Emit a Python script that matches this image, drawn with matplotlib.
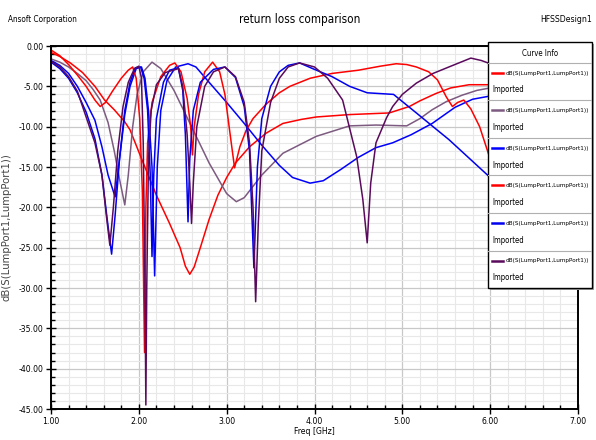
import matplotlib
matplotlib.use("Agg")
import matplotlib.pyplot as plt
from matplotlib import font_manager
from matplotlib.patches import Rectangle
from matplotlib.ticker import MultipleLocator, FormatStrFormatter

# curve 1 (red) - broad dip near 2.6 GHz
f1 = [1.0, 1.1, 1.22, 1.36, 1.5, 1.61, 1.72, 1.84, 1.9, 2.05, 2.2, 2.35, 2.47, 2.53, 2.58, 2.63,
      2.7, 2.8, 2.9, 3.0, 3.1, 3.26, 3.45, 3.64, 3.85, 4.02, 4.4, 4.85, 5.08, 5.2, 5.38, 5.55, 5.76, 6.0]
s1 = [-0.8, -1.3, -2.1, -3.3, -5.0, -6.7, -7.9, -9.4, -10.4, -14.5, -18.5, -22.0, -25.0, -27.3, -28.3, -27.4,
      -25.0, -21.5, -18.5, -16.3, -14.5, -12.5, -10.8, -9.6, -9.1, -8.8, -8.5, -8.3, -7.5, -6.8, -5.9, -5.2, -4.8, -4.8]

# curve 2 (mauve)
f2 = [1.0, 1.1, 1.2, 1.3, 1.4, 1.48, 1.56, 1.65, 1.72, 1.78, 1.84, 1.88, 1.93, 1.98, 2.05, 2.15, 2.25,
      2.4, 2.6, 2.8, 3.0, 3.11, 3.2, 3.4, 3.64, 4.02, 4.4, 4.7, 5.05, 5.2, 5.34, 5.5, 5.68, 5.85, 6.0]
s2 = [-1.6, -2.0, -2.6, -3.4, -4.3, -5.4, -6.7, -9.5, -13.0, -16.5, -19.7, -16.0, -10.0, -6.0, -3.2, -2.0, -2.8,
      -5.5, -10.0, -14.5, -18.3, -19.3, -18.8, -16.0, -13.3, -11.2, -9.9, -9.8, -9.9, -9.0, -7.9, -6.9, -6.1, -5.5, -5.2]

# curve 3 (blue) - wide peak at 2.56 GHz
f3 = [1.0, 1.1, 1.2, 1.3, 1.4, 1.5, 1.58, 1.65, 1.73, 1.78, 1.84, 1.9, 1.97, 2.03, 2.07, 2.11, 2.15, 2.18,
      2.21, 2.25, 2.32, 2.42, 2.56, 2.65, 2.8, 3.0, 3.2, 3.4, 3.6, 3.75, 3.95, 4.1, 4.3, 4.5, 4.7, 4.89,
      5.1, 5.34, 5.6, 5.8, 6.0]
s3 = [-1.8, -2.4, -3.4, -5.0, -7.0, -9.2, -12.5, -16.0, -18.7, -14.0, -8.5, -5.0, -2.8, -2.6, -4.0, -8.0, -15.0, -28.5,
      -15.0, -8.0, -4.3, -2.6, -2.2, -2.6, -4.5, -7.0, -9.6, -12.3, -14.8, -16.3, -17.0, -16.7, -15.3, -13.8, -12.6, -12.0,
      -11.0, -9.6, -7.6, -6.6, -6.2]

# curve 4 (red) - several narrow dips
f4 = [1.0, 1.1, 1.2, 1.3, 1.4, 1.5, 1.56, 1.62, 1.7, 1.8, 1.88, 1.93, 1.97, 2.01, 2.04, 2.065, 2.08, 2.1,
      2.15, 2.25, 2.35, 2.41, 2.48, 2.55, 2.59, 2.61, 2.63, 2.68, 2.75, 2.84, 2.92, 2.98, 3.04, 3.09, 3.15,
      3.22, 3.3, 3.45, 3.6, 3.72, 3.95, 4.2, 4.5, 4.75, 4.93, 5.05, 5.16, 5.3, 5.4, 5.5, 5.57, 5.63, 5.7,
      5.78, 5.88, 6.0]
s4 = [-0.5, -1.2, -2.3, -3.6, -5.0, -6.7, -7.5, -7.0, -5.6, -4.0, -3.0, -2.6, -4.0, -9.0, -18.0, -38.0, -20.0, -12.0,
      -7.0, -3.8, -2.4, -2.1, -3.2, -6.5, -10.0, -13.5, -10.0, -6.0, -3.2, -2.0, -3.2, -6.0, -11.0, -15.1, -12.5,
      -10.5, -9.0, -7.2, -5.8, -5.0, -4.0, -3.4, -3.0, -2.5, -2.2, -2.3, -2.6, -3.2, -4.2, -6.3, -7.5, -7.0, -6.7,
      -7.8, -10.0, -14.0]

# curve 5 (blue)
f5 = [1.0, 1.1, 1.2, 1.3, 1.4, 1.5, 1.58, 1.64, 1.69, 1.73, 1.78, 1.84, 1.9, 1.96, 2.02, 2.06, 2.1, 2.13,
      2.15, 2.17, 2.2, 2.28, 2.35, 2.45, 2.5, 2.53, 2.56, 2.58, 2.62, 2.7, 2.85, 2.98, 3.1, 3.2, 3.26, 3.31,
      3.35, 3.4, 3.5, 3.6, 3.7, 3.83, 4.0, 4.2, 4.4, 4.6, 4.9, 5.16, 5.35, 5.53, 5.75, 6.0]
s5 = [-2.0, -2.8, -4.0, -5.8, -8.2, -11.5, -16.0, -21.5, -25.8, -21.0, -14.0, -8.0, -4.5, -2.7, -2.6, -4.0, -8.0, -16.0,
      -26.1, -16.0, -9.0, -4.5, -3.0, -2.7, -5.5, -11.0, -21.8, -14.0, -8.0, -4.5, -2.9, -2.6, -3.9, -7.5, -13.0, -27.5,
      -15.0, -9.0, -5.0, -3.2, -2.4, -2.1, -2.9, -3.8, -5.0, -5.8, -6.0, -8.3, -10.0, -11.6, -13.8, -16.3]

# curve 6 (dark purple)
f6 = [1.0, 1.1, 1.2, 1.3, 1.4, 1.5, 1.58, 1.63, 1.67, 1.71, 1.76, 1.82, 1.88, 1.95, 2.0, 2.03, 2.05, 2.07,
      2.08, 2.09, 2.11, 2.14, 2.2, 2.3, 2.45, 2.5, 2.55, 2.58, 2.6, 2.62, 2.66, 2.75, 2.85, 2.98, 3.1, 3.2,
      3.26, 3.3, 3.33, 3.36, 3.4, 3.5, 3.6, 3.7, 3.83, 4.0, 4.15, 4.32, 4.48, 4.55, 4.6, 4.64, 4.7, 4.82,
      4.89, 5.0, 5.16, 5.35, 5.53, 5.78, 5.9, 6.0]
s6 = [-1.9, -2.6, -3.8, -5.6, -8.8, -12.0, -16.0, -21.0, -24.7, -20.0, -13.0, -7.5, -4.5, -2.8, -2.5, -4.0, -12.0, -30.0,
      -44.5, -30.0, -14.0, -8.0, -4.8, -3.3, -2.8, -5.0, -11.0, -17.0, -22.0, -17.0, -10.0, -5.0, -3.2, -2.6, -3.8, -7.0,
      -12.0, -20.0, -31.7, -22.0, -13.0, -7.0, -4.0, -2.6, -2.1, -2.6, -4.0, -6.7, -13.7, -19.0, -24.4, -17.0, -12.0, -8.9,
      -7.5, -6.0, -4.6, -3.4, -2.6, -1.5, -1.8, -2.2]

curves = [(f1, s1, "#ff0000"), (f2, s2, "#7d5a80"), (f3, s3, "#0000ff"),
          (f4, s4, "#ff0000"), (f5, s5, "#0000ee"), (f6, s6, "#5a0a5c")]
curveName = "dB(S(LumpPort1,LumpPort1))"

# look for a condensed sans font, the HFSS plots use a narrow Arial
narrow = {"family": "Liberation Sans", "stretch": "normal"}
shrink = 0.85
fontNames = {(fe.name, fe.stretch) for fe in font_manager.fontManager.ttflist}
for name, stretch in [("Liberation Sans Narrow", "normal"), ("Liberation Sans Narrow", "condensed"),
                      ("DejaVu Sans", "condensed"), ("DejaVu Sans Condensed", "normal"),
                      ("Roboto Condensed", "normal"), ("Open Sans Condensed", "normal")]:
    if (name, stretch) in fontNames:
        narrow = {"family": name, "stretch": stretch}
        shrink = 1.0
        break

fig = plt.figure(figsize=(5.96, 4.40), dpi=100)
ax = fig.add_axes([51 / 596, 1 - 409 / 440, 527 / 596, 363 / 440])

for f, s, c in curves:
    ax.plot(f, s, color=c, linewidth=1.1)

ax.set_xlim(1, 7)
ax.set_ylim(-45, 0)
ax.xaxis.set_major_locator(MultipleLocator(1))
ax.xaxis.set_minor_locator(MultipleLocator(0.2))
ax.yaxis.set_major_locator(MultipleLocator(5))
ax.yaxis.set_minor_locator(MultipleLocator(1))
ax.xaxis.set_major_formatter(FormatStrFormatter("%.2f"))
ax.yaxis.set_major_formatter(FormatStrFormatter("%.2f"))
ax.grid(which="major", color="#c8c8c8", linewidth=0.9)
ax.grid(which="minor", color="#e8e8e8", linewidth=0.8)
ax.set_axisbelow(True)
ax.tick_params(which="major", direction="inout", length=7, width=1, labelsize=6.2 * shrink, pad=2)
ax.tick_params(which="minor", direction="in", length=3, width=1)
for lbl in ax.get_xticklabels() + ax.get_yticklabels():
    lbl.set_family(narrow["family"])
    lbl.set_stretch(narrow["stretch"])
for sp in ax.spines.values():
    sp.set_linewidth(1.4)
    sp.set_color("black")

ax.set_xlabel("Freq [GHz]", fontsize=6.2 * shrink, labelpad=1, **narrow)
ax.set_ylabel(curveName, fontsize=7.3, labelpad=5, family="DejaVu Sans", color="#444444")

fig.text(8 / 596, 1 - 20 / 440, "Ansoft Corporation", fontsize=5.9 * shrink, va="center", **narrow)
fig.text(300 / 596, 1 - 20 / 440, "return loss comparison", fontsize=8.4 * shrink, ha="center", va="center", **narrow)
fig.text(592 / 596, 1 - 20 / 440, "HFSSDesign1", fontsize=6.2 * shrink, ha="right", va="center", **narrow)

# curve info box
lg = fig.add_axes([488 / 596, 1 - 288 / 440, 104 / 596, 246 / 440])
lg.set_xlim(0, 104)
lg.set_ylim(246, 0)
lg.axis("off")
lg.add_patch(Rectangle((2, 2), 104, 246, facecolor="#a0a0a0", edgecolor="none", clip_on=False, zorder=0))
lg.add_patch(Rectangle((0, 0), 104, 246, facecolor="white", edgecolor="black", linewidth=1, clip_on=False, zorder=1))
lg.text(52, 11, "Curve Info", fontsize=5.6 * shrink, ha="center", va="center", zorder=3, **narrow)
lg.plot([0, 104], [21, 21], color="#b0b0b0", linewidth=0.8, zorder=2)
for i, (f, s, c) in enumerate(curves):
    top = 21 + i * 37.5
    lg.plot([4, 15], [top + 10, top + 10], color=c, linewidth=1.8, zorder=2)
    lg.text(18, top + 10, curveName, fontsize=4.6 * shrink, va="center", zorder=3, **narrow)
    lg.text(4, top + 27, "Imported", fontsize=5.6 * shrink, va="center", zorder=3, **narrow)
    if i < 5:
        lg.plot([0, 104], [top + 37.5, top + 37.5], color="#b0b0b0", linewidth=0.8, zorder=2)

fig.savefig("out.png", dpi=100)
